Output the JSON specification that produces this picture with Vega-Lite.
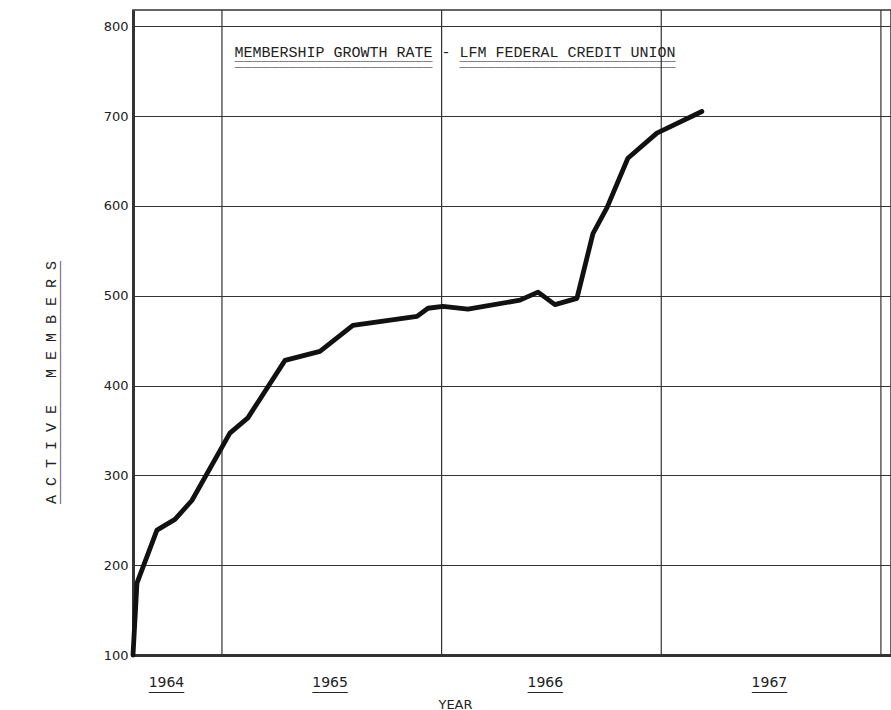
{
  "$schema": "https://vega.github.io/schema/vega-lite/v6.json",
  "width": 758,
  "height": 645,
  "autosize": "none",
  "padding": {"left": 133, "top": 10, "right": 0, "bottom": 55},
  "background": "white",
  "config": {
    "view": {"stroke": "#333", "strokeWidth": 1.5},
    "font": "DejaVu Sans"
  },
  "title": {
    "text": ["MEMBERSHIP GROWTH RATE - LFM FEDERAL CREDIT UNION", "______________________\u00a0\u00a0\u00a0________________________"],
    "subtitle": "______________________\u00a0\u00a0\u00a0________________________",
    "font": "Liberation Mono",
    "fontSize": 15,
    "fontWeight": "normal",
    "color": "#222",
    "lineHeight": 3,
    "subtitleFont": "Liberation Mono",
    "subtitleFontSize": 15,
    "subtitleColor": "#222",
    "subtitlePadding": -9,
    "anchor": "middle",
    "frame": "group",
    "orient": "top",
    "offset": -60,
    "dx": -57
  },
  "layer": [
    {
      "data": {"values": [{"yr": 1965}, {"yr": 1966}, {"yr": 1967}, {"yr": 1968}]},
      "mark": {"type": "rule", "color": "#333", "strokeWidth": 1.2},
      "encoding": {
        "x": {"field": "yr", "type": "quantitative"}
      }
    },
    {
      "data": {"values": [
        {"year": 1964.595, "members": 100},
        {"year": 1964.613, "members": 180},
        {"year": 1964.704, "members": 239},
        {"year": 1964.786, "members": 251},
        {"year": 1964.863, "members": 272},
        {"year": 1965.036, "members": 347},
        {"year": 1965.118, "members": 364},
        {"year": 1965.287, "members": 428},
        {"year": 1965.446, "members": 438},
        {"year": 1965.596, "members": 467},
        {"year": 1965.888, "members": 477},
        {"year": 1965.938, "members": 486},
        {"year": 1966.006, "members": 488},
        {"year": 1966.120, "members": 485},
        {"year": 1966.357, "members": 495},
        {"year": 1966.439, "members": 504},
        {"year": 1966.516, "members": 490},
        {"year": 1966.616, "members": 497},
        {"year": 1966.689, "members": 569},
        {"year": 1966.753, "members": 598},
        {"year": 1966.848, "members": 653},
        {"year": 1966.980, "members": 681},
        {"year": 1967.185, "members": 705}
      ]},
      "mark": {"type": "line", "color": "#111", "strokeWidth": 4.8, "strokeJoin": "round", "strokeCap": "round"},
      "encoding": {
        "x": {
          "field": "year",
          "type": "quantitative",
          "scale": {"domain": [1964.595, 1968.046], "nice": false, "zero": false},
          "axis": {
            "values": [1964.745, 1965.49, 1966.47, 1967.49],
            "labelExpr": "[floor(datum.value) + '', '_____']",
            "labelFont": "DejaVu Sans",
            "labelFontSize": 14,
            "labelColor": "#222",
            "labelLineHeight": 3,
            "labelPadding": 20,
            "ticks": false,
            "grid": false,
            "domainColor": "#333",
            "domainWidth": 3,
            "title": "YEAR",
            "titleFont": "DejaVu Sans",
            "titleFontSize": 13,
            "titleFontWeight": "normal",
            "titleColor": "#222",
            "titleX": 322,
            "titleY": 53,
            "titleAnchor": null,
            "titleAlign": "center",
            "titleBaseline": "alphabetic"
          }
        },
        "y": {
          "field": "members",
          "type": "quantitative",
          "scale": {"domain": [100, 818], "nice": false, "zero": false},
          "axis": {
            "values": [100, 200, 300, 400, 500, 600, 700, 800],
            "labelFont": "DejaVu Sans",
            "labelFontSize": 13,
            "labelColor": "#222",
            "labelPadding": 5,
            "ticks": false,
            "grid": true,
            "gridColor": "#333",
            "gridWidth": 1.2,
            "gridOpacity": 1,
            "domainColor": "#333",
            "domainWidth": 3,
            "title": ["A C T I V E \u00a0 M E M B E R S", "___________________________"],
            "titleFont": "Liberation Mono",
            "titleFontSize": 15,
            "titleFontWeight": "normal",
            "titleColor": "#222",
            "titleLineHeight": 3,
            "titleAngle": 270,
            "titleX": -78,
            "titleY": 372,
            "titleAlign": "center",
            "titleBaseline": "alphabetic"
          }
        }
      }
    }
  ]
}
